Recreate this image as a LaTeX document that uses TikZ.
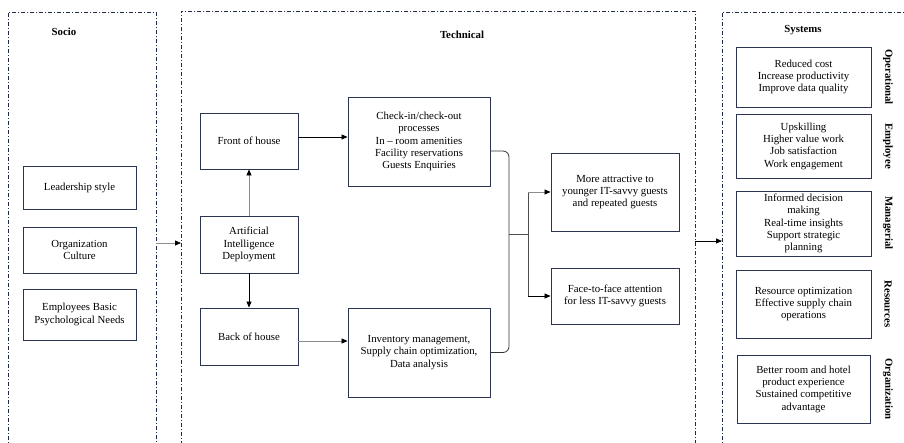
\documentclass[tikz,border=0pt]{standalone}
\usepackage{fontspec}
\setmainfont{Liberation Serif}
\usetikzlibrary{arrows.meta}
\definecolor{navy}{HTML}{2A3552}
\definecolor{framecol}{HTML}{1F2A4A}
\tikzset{
  box/.style={draw=navy, line width=0.9pt, align=center, inner sep=1pt,
    font=\fontsize{10.8}{12.3}\selectfont},
  frame/.style={draw=framecol, line width=0.7pt, dash pattern=on 4pt off 2pt on 1pt off 2pt, anchor=north west, inner sep=0pt},
  title/.style={font=\fontsize{10.8}{12.3}\selectfont\bfseries},
  side/.style={font=\fontsize{10.8}{12.3}\selectfont\bfseries, rotate=-90},
  arr/.style={line width=0.8pt, -{Triangle[length=6pt,width=5pt,color=black]}},
  blk/.style={draw=black},
  gry/.style={draw=black!45},
}
\begin{document}
\begin{tikzpicture}[x=1pt,y={(0pt,-1pt)}]
\useasboundingbox (0,0) rectangle (904,442);
\clip (0,0) rectangle (904,442);
% frames
\node[frame, minimum width=148pt, minimum height=450pt] (socio) at (8,12) {};
\node[frame, minimum width=514pt, minimum height=450pt] (tech) at (181,11) {};
\node[frame, minimum width=220pt, minimum height=450pt] (sys) at (722,12) {};
% titles
\node[title] (tsocio) at (64,32) {Socio};
\node[title] (ttech) at (462,35) {Technical};
\node[title] (tsys) at (803,30) {Systems};
% socio boxes
\node[box, minimum width=113pt, minimum height=43pt] (lead) at (79.5,187.5) {Leadership style};
\node[box, minimum width=113pt, minimum height=46pt] (org) at (79.5,250) {Organization\\Culture};
\node[box, minimum width=113pt, minimum height=51pt] (emp) at (79.5,314.5) {Employees Basic\\Psychological Needs};
% technical boxes
\node[box, minimum width=98pt, minimum height=56pt] (front) at (249,141) {Front of house};
\node[box, minimum width=98pt, minimum height=57pt] (ai) at (249,244.5) {Artificial\\Intelligence\\Deployment};
\node[box, minimum width=98pt, minimum height=57pt] (back) at (249,336.5) {Back of house};
\node[box, minimum width=142pt, minimum height=89pt] (checkin) at (419,141.5) {Check-in/check-out\\processes\\In -- room amenities\\Facility reservations\\Guests Enquiries};
\node[box, minimum width=142pt, minimum height=89pt] (inv) at (419,352.5) {Inventory management,\\Supply chain optimization,\\Data analysis};
\node[box, minimum width=128pt, minimum height=78pt] (attr) at (615,192) {More attractive to\\younger IT-savvy guests\\and repeated guests};
\node[box, minimum width=128pt, minimum height=56pt] (face) at (615,296) {Face-to-face attention\\for less IT-savvy guests};
% systems boxes
\node[box, minimum width=135pt, minimum height=60pt] (oper) at (803.5,77) {Reduced cost\\Increase productivity\\Improve data quality};
\node[box, minimum width=135pt, minimum height=64pt] (empl) at (803.5,146) {Upskilling\\Higher value work\\Job satisfaction\\Work engagement};
\node[box, minimum width=135pt, minimum height=65pt] (manag) at (803.5,223.5) {Informed decision\\making\\Real-time insights\\Support strategic\\planning};
\node[box, minimum width=135pt, minimum height=68pt] (res) at (803.5,304) {Resource optimization\\Effective supply chain\\operations};
\node[box, minimum width=133pt, minimum height=68pt] (orgz) at (803.5,389) {Better room and hotel\\product experience\\Sustained competitive\\advantage};
% side labels
\node[side] (loper) at (888,77) {Operational};
\node[side] (lempl) at (888,146) {Employee};
\node[side] (lmanag) at (888,223) {Managerial};
\node[side] (lres) at (888,304) {Resources};
\node[side] (lorgz) at (888,389) {Organization};
% connectors
\coordinate (s1) at (156,243);
\coordinate (t1) at (181,243);
\draw[arr, gry] (s1) -- (t1);
\coordinate (t2) at (695,241);
\coordinate (y2) at (722,241);
\draw[arr, blk] (t2) -- (y2);
\draw[arr, gry] (ai.north) -- (front.south);
\draw[arr, blk] (ai.south) -- (back.north);
\draw[arr, blk] ([yshift=4pt]front.east) -- ([yshift=4.5pt]checkin.west);
\draw[arr, gry] ([yshift=-4.5pt]back.east) -- ([yshift=11.5pt]inv.west);
% bracket
\coordinate (b1) at ([yshift=-9.5pt]checkin.east);
\coordinate (bx) at (509,234);
\coordinate (jx) at (528,234);
\draw[line width=0.8pt, black!80, rounded corners=6pt] (b1) -- (bx |- b1) -- (bx |- inv.east) -- (inv.east);
\draw[line width=0.8pt, black!70] (bx) -- (jx);
\draw[line width=0.8pt, black!70] (jx |- attr.west) -- (jx |- face.west);
\draw[arr, gry] (jx |- attr.west) -- (attr.west);
\draw[arr, blk] (jx |- face.west) -- (face.west);
\end{tikzpicture}
\end{document}
